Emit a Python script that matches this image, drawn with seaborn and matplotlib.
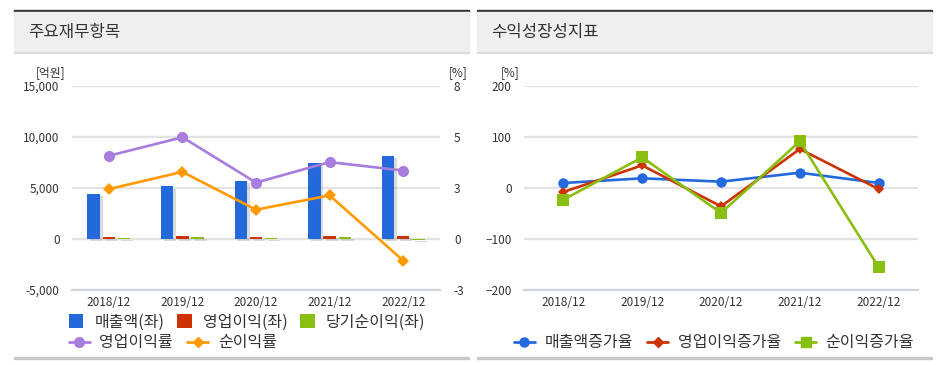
import numpy as np
import pandas as pd
import matplotlib
matplotlib.use("Agg")
import matplotlib.pyplot as plt
import matplotlib.patheffects as pe
from matplotlib.patches import Rectangle
from matplotlib.lines import Line2D
import seaborn as sns

sns.set_style("white")
plt.rcParams['font.family'] = ['Noto Sans CJK KR', 'DejaVu Sans']

# ---------------- data ----------------
periods = ["2018/12", "2019/12", "2020/12", "2021/12", "2022/12"]
sales = [4400, 5150, 5720, 7450, 8100]          # 매출액 (억원)
op_income = [191, 274, 169, 300, 290]           # 영업이익
net_income = [115, 181, 88, 170, -92]           # 당기순이익
op_margin = [4.35, 5.32, 2.95, 4.02, 3.58]      # 영업이익률 (%)
net_margin = [2.61, 3.51, 1.53, 2.28, -1.13]    # 순이익률 (%)

sales_growth = [9.8, 19, 12.4, 30, 9.8]         # 매출액증가율
op_growth = [-7.8, 44.4, -36, 76.5, -2]         # 영업이익증가율
net_growth = [-22.9, 60, -49, 91.5, -155]       # 순이익증가율

left_ticks = [-5000, 0, 5000, 10000, 15000]
left_tick_labels = ["-5,000", "0", "5,000", "10,000", "15,000"]
right_tick_labels = ["-3", "0", "3", "5", "8"]
growth_ticks = [-200, -100, 0, 100, 200]

bar_names = ["매출액(좌)", "영업이익(좌)", "당기순이익(좌)"]
line_names = ["영업이익률", "순이익률"]
growth_names = ["매출액증가율", "영업이익증가율", "순이익증가율"]

C_BLUE = "#2369db"
C_RED = "#cc3300"
C_GREEN = "#88bf10"
C_PURPLE = "#a77ddd"
C_ORANGE = "#ff9a00"

W, H = 938, 365
fig = plt.figure(figsize=(W / 100, H / 100), dpi=100)


def px_rect(x0, y0, x1, y1):
    return [x0 / W, 1 - y1 / H, (x1 - x0) / W, (y1 - y0) / H]


def panel(x0, x1, title):
    fig.patches.append(Rectangle((x0 / W, 1 - 12 / H), (x1 - x0) / W, 2 / H,
                                 transform=fig.transFigure, color="#333333", zorder=0))
    fig.patches.append(Rectangle((x0 / W, 1 - 52 / H), (x1 - x0) / W, 40 / H,
                                 transform=fig.transFigure, color="#efefef", zorder=0))
    fig.patches.append(Rectangle((x0 / W, 1 - 53 / H), (x1 - x0) / W, 1 / H,
                                 transform=fig.transFigure, color="#dcdcdc", zorder=0))
    fig.patches.append(Rectangle((x0 / W, 1 - 359 / H), (x1 - x0) / W, 2 / H,
                                 transform=fig.transFigure, color="#c8c8c8", zorder=0))
    fig.text((x0 + 14) / W, 1 - 33 / H, title, fontsize=12, color="#333333",
             va="center", ha="left")


panel(14, 469, "주요재무항목")
panel(477, 932, "수익성장성지표")


def style_axis(ax):
    ax.set_xlim(-0.5, 4.5)
    for s in ["top", "right", "left"]:
        ax.spines[s].set_visible(False)
    ax.spines["bottom"].set_color("#ccd6e2")
    ax.spines["bottom"].set_linewidth(1.5)
    ax.set_xticks(range(5))
    ax.set_xticklabels(periods, fontsize=8.5, color="#333333")
    ax.set_xticks(np.arange(-0.5, 5.0, 1.0), minor=True)
    ax.tick_params(axis="x", which="major", length=0, pad=4)
    ax.tick_params(axis="x", which="minor", length=5, color="#ccd6e2", width=1.2)
    ax.tick_params(axis="y", length=0, labelsize=8.5, labelcolor="#333333", pad=9)
    ax.grid(axis="y", color="#e3e3e3", linewidth=1.6)
    ax.set_axisbelow(True)
    ax.set_xlabel("")
    ax.set_ylabel("")


# ---------------- left chart ----------------
ax = fig.add_axes(px_rect(72, 86, 440, 290))
df_bars = pd.DataFrame({
    "period": periods * 3,
    "value": sales + op_income + net_income,
    "item": sum([[n] * 5 for n in bar_names], []),
})
sns.barplot(data=df_bars, x="period", y="value", hue="item", order=periods,
            hue_order=bar_names, palette=[C_BLUE, C_RED, C_GREEN],
            width=0.62, gap=0.18, ax=ax, legend=False, saturation=1)
for p in ax.patches:
    p.set_linewidth(0)
    p.set_path_effects([pe.SimplePatchShadow(offset=(2, -1.5), shadow_rgbFace="#999999", alpha=0.35),
                        pe.Normal()])
ax.set_ylim(-5000, 15000)
ax.set_yticks(left_ticks)
ax.set_yticklabels(left_tick_labels)
style_axis(ax)

ax2 = ax.twinx()
rmax = 8.0
ax2.set_ylim(-5000 * rmax / 15000, rmax)
df_m = pd.DataFrame({"period": periods * 2, "value": op_margin + net_margin,
                     "item": [line_names[0]] * 5 + [line_names[1]] * 5})
sns.lineplot(data=df_m[df_m.item == line_names[0]], x="period", y="value", ax=ax2,
             color=C_PURPLE, linewidth=1.9, marker="o", markersize=8,
             markeredgewidth=0, legend=False)
sns.lineplot(data=df_m[df_m.item == line_names[1]], x="period", y="value", ax=ax2,
             color=C_ORANGE, linewidth=1.9, marker="D", markersize=6.2,
             markeredgewidth=0, legend=False)
ax2.set_xlim(-0.5, 4.5)
ax2.set_yticks([v * rmax / 15000 for v in left_ticks])
ax2.set_yticklabels(right_tick_labels)
for s in ["top", "right", "left", "bottom"]:
    ax2.spines[s].set_visible(False)
ax2.tick_params(axis="y", length=0, labelsize=8.5, labelcolor="#333333", pad=10)
ax2.set_xlabel("")
ax2.set_ylabel("")

fig.text(51 / W, 1 - 73 / H, "[억원]", fontsize=8.5, color="#333333", ha="center", va="center")
fig.text(458 / W, 1 - 73 / H, "[%]", fontsize=8.5, color="#333333", ha="center", va="center")

# legends left
h_bars = [Rectangle((0, 0), 1, 1, facecolor=c, edgecolor="none") for c in [C_BLUE, C_RED, C_GREEN]]
fig.legend(h_bars, bar_names, loc="center left", bbox_to_anchor=(69 / W, 1 - 322 / H),
           ncol=3, frameon=False, fontsize=11.5, handlelength=0.9, handleheight=0.9,
           handletextpad=0.7, columnspacing=0.8, borderaxespad=0, borderpad=0,
           labelcolor="#333333")
h_lines = [Line2D([], [], color=C_PURPLE, marker="o", markersize=7, lw=2),
           Line2D([], [], color=C_ORANGE, marker="D", markersize=5.5, lw=2)]
fig.legend(h_lines, line_names, loc="center left", bbox_to_anchor=(69 / W, 1 - 343 / H),
           ncol=2, frameon=False, fontsize=11.5, handlelength=1.3,
           handletextpad=0.6, columnspacing=0.9, borderaxespad=0, borderpad=0,
           labelcolor="#333333")

# ---------------- right chart ----------------
bx = fig.add_axes(px_rect(524, 86, 918, 290))
df_g = pd.DataFrame({"period": periods * 3,
                     "value": sales_growth + op_growth + net_growth,
                     "item": sum([[n] * 5 for n in growth_names], [])})
styles = [(C_BLUE, "o", 7.5), (C_RED, "D", 5.5), (C_GREEN, "s", 8)]
for name, (c, m, ms) in zip(growth_names, styles):
    sns.lineplot(data=df_g[df_g.item == name], x="period", y="value", ax=bx,
                 color=c, linewidth=1.9, marker=m, markersize=ms,
                 markeredgewidth=0, legend=False)
bx.set_ylim(-200, 200)
bx.set_yticks(growth_ticks)
style_axis(bx)
fig.text(510 / W, 1 - 73 / H, "[%]", fontsize=8.5, color="#333333", ha="center", va="center")

h_g = [Line2D([], [], color=c, marker=m, markersize=min(ms, 6.5), lw=2) for c, m, ms in styles]
fig.legend(h_g, growth_names, loc="center left", bbox_to_anchor=(514 / W, 1 - 343 / H),
           ncol=3, frameon=False, fontsize=11.5, handlelength=1.3,
           handletextpad=0.6, columnspacing=0.9, borderaxespad=0, borderpad=0,
           labelcolor="#333333")

fig.savefig("out.png", dpi=100)
